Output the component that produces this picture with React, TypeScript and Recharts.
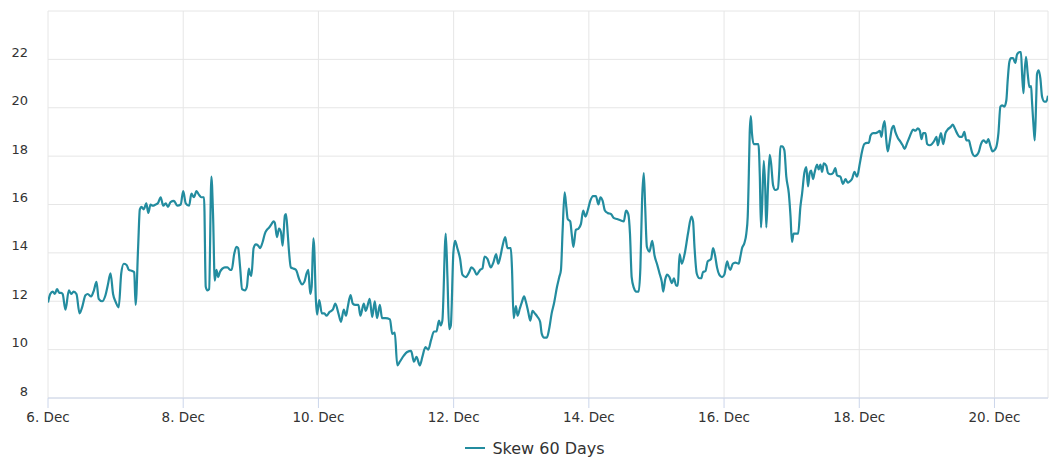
import { LineChart, Line, XAxis, YAxis, CartesianGrid, Legend } from 'recharts';

// hours since 6 Dec 00:00
const hours = [
  0, 0.8, 1.7, 2.4, 3.2, 4.0, 4.7, 5.2, 6.2, 7.4, 8.2, 9.1, 10.1, 11.2, 12.1, 13.3, 14.1, 15.3, 16.3, 17.2,
  18.0, 19.2, 20.4, 21.2, 22.2, 23.1, 24.1, 25.1, 26.0, 26.9, 27.9, 28.7, 29.9, 30.6, 31.1, 32.0, 32.6, 33.2, 34.0, 34.9,
  35.6, 36.4, 37.2, 38.2, 39.0, 40.0, 40.9, 41.8, 42.6, 43.5, 44.7, 45.9, 47.1, 48.0, 48.9, 50.1, 50.9, 51.8, 52.7, 53.6,
  54.4, 55.4, 56.0, 56.6, 57.2, 58.0, 58.6, 59.2, 59.8, 60.4, 61.0, 61.9, 62.8, 63.7, 64.7, 65.2, 66.1, 66.9, 67.5, 68.2,
  68.9, 69.9, 70.6, 71.3, 71.8, 72.2, 73.0, 73.8, 74.6, 75.3, 76.2, 77.0, 77.7, 78.5, 79.4, 80.1, 80.5, 81.3, 82.0, 82.7,
  83.3, 84.1, 84.5, 85.1, 85.6, 86.2, 87.1, 88.0, 89.2, 90.2, 91.0, 91.8, 92.4, 93.1, 93.6, 94.2, 94.5, 95.1, 95.5, 96.3,
  97.2, 98.1, 98.9, 99.9, 101.1, 102.0, 103.1, 104.0, 105.0, 105.8, 106.4, 107.4, 108.2, 109.1, 110.2, 110.9,
  112.1, 112.8, 113.3, 114.2, 115.1, 116.0, 116.8, 117.8, 118.6, 119.8, 121.4, 122.2, 123.1, 124.0, 124.9, 126.3, 127.5, 128.9, 129.9, 130.8,
  132.0, 132.9, 134.0, 135.0, 136.0, 137.0, 137.9, 138.8, 139.4, 140.0, 141.2, 141.8, 142.4, 143.0, 143.9, 144.5, 145.3, 146.3, 147.1, 148.3,
  149.5, 150.3, 151.3, 152.2, 153.4, 154.2, 155.0, 156.0, 157.2, 158.1, 159.1, 159.8, 160.5, 161.3, 162.3, 163.1, 164.3, 164.7, 165.3, 166.1,
  166.7, 167.5, 168.2, 169.0, 169.6, 170.5, 171.2, 172.0, 172.8, 173.8, 174.7, 175.3, 176.1, 177.1, 177.9, 178.8, 179.7, 180.7, 181.5, 182.1,
  182.7, 183.4, 184.0, 184.5, 185.4, 185.9, 186.5, 187.4, 188.3, 189.2, 190.0, 190.8, 191.6, 192.5, 193.5, 194.5, 195.4, 196.1, 196.9, 197.7,
  198.7, 199.9, 200.8, 202.0, 203.2, 204.4, 205.2, 206.0, 206.6, 207.2, 208.0, 208.8, 209.7, 210.3, 210.9, 211.5, 212.0, 212.6, 213.5, 214.5,
  215.3, 216.3, 217.1, 217.9, 218.4, 219.1, 219.8, 220.6, 221.5, 222.2, 223.0, 223.6, 224.2, 225.0, 226.0, 227.2, 228.4, 229.0, 229.5, 230.3,
  231.3, 231.9,
  232.5, 233.4, 234.2, 234.9, 235.4, 236.1, 236.8, 237.5, 238.3, 239.3, 240.1, 241.1, 241.7, 242.2, 243.1, 244.0, 245.2, 245.8, 246.4, 247.2,
  247.9, 248.4, 248.8, 249.1, 249.5, 249.9, 250.5, 251.5, 252.2, 252.7, 253.1, 253.5, 254.1, 254.6, 255.0, 255.6, 256.2, 256.7, 257.4, 258.2,
  259.1, 259.6, 260.0, 260.6, 261.4, 262.1, 263.0, 263.6, 264.1, 264.7, 265.7, 266.3, 267.1, 267.7, 268.5, 269.2, 269.8, 270.4, 270.9, 271.6,
  272.1, 273.0, 273.6, 274.2, 274.8, 275.4, 276.3, 276.9, 277.8, 278.7, 279.5, 280.1, 281.3, 282.2, 283.1, 283.9, 284.6, 285.4, 286.3, 287.2,
  288.2, 289.0, 289.8, 290.8, 291.4, 292.0, 292.9, 293.8, 294.7, 295.3, 295.9, 296.4, 297.0, 297.6, 298.1, 298.8, 299.6, 300.2, 300.8, 301.7,
  302.6, 303.4, 304.1, 305.0, 305.7, 306.4, 307.1, 307.9, 308.8, 309.5, 310.1, 310.7, 311.5, 312.1, 313.0, 313.8, 314.7, 315.4, 315.9, 316.6,
  317.0, 317.8, 318.6, 319.4, 320.4, 321.2, 321.9, 322.7, 323.6, 324.5, 325.3, 326.0, 326.9, 327.5, 328.2, 328.9, 329.8, 330.5, 331.2, 332.2,
  333.1, 333.8, 334.6, 335.3, 336.0, 336.7, 337.4, 338.1, 338.7, 339.5, 340.2, 340.7, 341.3, 341.9, 342.6, 343.4, 344.0, 344.9, 345.4, 345.8,
  346.3, 346.6, 347.2, 347.8, 348.4, 349.0, 349.3, 349.9, 350.3, 350.8, 351.1, 351.7, 352.3, 352.9, 353.7, 354.4, 355.0,
];

const skew = [
  11.95, 12.3, 12.4, 12.3, 12.5, 12.35, 12.35, 12.3, 11.65, 12.45, 12.3, 12.4, 12.3, 11.5, 11.75, 12.25, 12.3, 12.2, 12.45, 12.8,
  12.1, 12.0, 12.25, 12.65, 13.15, 12.3, 11.95, 11.75, 13.15, 13.55, 13.5, 13.3, 13.25, 13.2, 11.85, 14.25, 15.8, 15.9, 15.8, 16.05,
  15.65, 16.0, 15.95, 16.0, 16.05, 16.3, 15.95, 16.05, 15.9, 16.1, 16.15, 15.95, 16.0, 16.55, 16.05, 15.95, 16.45, 16.3, 16.55, 16.4,
  16.3, 16.3, 12.6, 12.45, 12.5, 17.15, 15.55, 12.85, 13.3, 13.0, 13.2, 13.35, 13.4, 13.4, 13.3, 13.3, 13.95, 14.25, 14.2, 13.4,
  12.5, 12.45, 12.6, 13.35, 13.1, 13.05, 14.2, 14.35, 14.3, 14.2, 14.45, 14.8, 14.95, 15.05, 15.2, 15.3, 15.25, 14.65, 15.0, 14.85,
  14.3, 15.55, 15.6, 14.8, 14.0, 13.4, 13.35, 13.3, 12.9, 12.7, 12.8, 13.15, 13.3, 12.3, 12.6, 14.6, 14.25, 12.05, 11.45, 12.05,
  11.5, 11.5, 11.4, 11.55, 11.65, 11.9, 11.5, 11.15, 11.65, 11.4, 11.75, 12.25, 11.9, 11.85, 11.85, 11.4,
  11.9, 11.6, 11.75, 12.1, 11.35, 12.0, 11.3, 11.85, 11.3, 11.3, 11.25, 10.65, 10.7, 9.35, 9.5, 9.75, 9.9, 9.95, 9.5, 9.7,
  9.35, 9.7, 10.1, 10.0, 10.4, 10.75, 10.75, 11.2, 11.0, 11.2, 14.8, 13.0, 10.85, 11.0, 14.0, 14.5, 14.2, 13.75, 13.1, 13.0,
  13.2, 13.4, 13.3, 13.1, 13.3, 13.35, 13.85, 13.75, 13.4, 13.6, 13.95, 13.55, 13.8, 14.25, 14.65, 14.2, 14.2, 13.4, 11.3, 11.8,
  11.4, 11.7, 11.95, 12.2, 12.0, 11.55, 11.2, 11.6, 11.5, 11.35, 11.15, 10.65, 10.5, 10.5, 10.85, 11.5, 11.95, 12.6, 13.0, 13.3,
  14.95, 16.5, 15.9, 15.4, 15.3, 14.8, 14.25, 14.95, 15.0, 15.2, 15.75, 15.5, 15.75, 16.15, 16.35, 16.35, 16.0, 16.3, 16.15, 15.75,
  15.65, 15.6, 15.45, 15.4, 15.35, 15.3, 15.75, 15.6, 14.8, 13.0, 12.55, 12.4, 12.4, 13.4, 16.2, 17.3, 15.9, 14.25, 14.05, 14.5,
  13.9, 13.5, 13.15, 12.8, 12.4, 12.9, 13.1, 13.0, 12.75, 12.95, 12.65, 12.65, 13.95, 13.55, 13.95, 14.8, 15.5, 15.3, 14.25, 13.15,
  12.95, 12.95,
  13.2, 13.25, 13.65, 13.7, 13.75, 14.2, 13.9, 13.4, 13.1, 13.0, 13.1, 13.65, 13.4, 13.3, 13.55, 13.6, 13.55, 13.85, 14.2, 14.4,
  14.8, 15.5, 17.3, 18.95, 19.65, 18.95, 18.5, 18.5, 18.5, 17.15, 15.05, 15.9, 17.8, 16.75, 15.05, 16.75, 18.05, 17.7, 16.8, 16.6,
  16.65, 17.4, 18.4, 18.4, 18.25, 17.15, 16.45, 15.5, 14.45, 14.8, 14.8, 14.8, 15.9, 16.45, 17.3, 17.55, 16.75, 17.3, 17.4, 17.05,
  17.3, 17.65, 17.45, 17.65, 17.35, 17.7, 17.6, 17.3, 17.25, 17.3, 17.5, 17.2, 17.15, 16.85, 17.05, 16.9, 16.95, 17.05, 17.35, 17.15,
  17.7, 18.2, 18.5, 18.55, 18.55, 18.85, 18.95, 18.95, 19.0, 19.05, 18.8, 19.2, 19.45, 18.65, 18.2, 18.6, 19.15, 19.25, 19.0, 18.75,
  18.6, 18.45, 18.3, 18.55, 18.75, 18.95, 19.1, 19.05, 19.15, 19.05, 18.7, 18.95, 18.95, 18.5, 18.45, 18.5, 18.65, 18.8, 18.45, 18.8,
  18.95, 18.5, 18.95, 19.1, 19.2, 19.3, 19.15, 18.95, 18.8, 18.8, 19.0, 18.65, 18.65, 18.4, 18.1, 18.0, 18.05, 18.2, 18.5, 18.65,
  18.55, 18.7, 18.4, 18.2, 18.25, 18.4, 18.95, 20.05, 20.1, 20.05, 20.3, 21.15, 21.9, 22.05, 22.05, 21.85, 22.2, 22.3, 22.3, 21.4,
  20.6, 21.3, 22.1, 21.4, 20.85, 20.9, 20.3, 19.2, 18.65, 20.3, 21.4, 21.55, 21.2, 20.45, 20.25, 20.25, 20.5,
];

const xTicks = [0, 48, 96, 144, 192, 240, 288, 336];
const yTicks = [8, 10, 12, 14, 16, 18, 20, 22, 24];
const seriesName = 'Skew 60 Days';

const LINE_COLOR = '#238c9f';

const chartData = hours.map((t, i) => ({ t, skew: skew[i] }));

const formatDay = (t: number) => `${6 + Math.round(t / 24)}. Dec`;

const YTick = ({ x, y, payload }: any) => {
  if (payload.value === 24) return <g />;
  return (
    <text x={x} y={y - 7} dy="0.355em" textAnchor="end" fill="#333333" fontSize={13}>
      {payload.value}
    </text>
  );
};

const XTick = ({ x, y, payload }: any) => (
  <text x={x} y={y} dy="0.71em" textAnchor="middle" fill="#333333" fontSize={13.5}>
    {formatDay(payload.value)}
  </text>
);

const LegendContent = () => (
  <div style={{ height: 32, display: 'flex', alignItems: 'center', justifyContent: 'center', paddingLeft: 22 }}>
    <div style={{ width: 20, height: 2.5, background: LINE_COLOR, marginRight: 7 }} />
    <span style={{ fontSize: 16, color: '#333333' }}>{seriesName}</span>
  </div>
);

export default function App() {
  return (
    <div style={{ position: 'absolute', left: 0, top: 0, width: 1058, height: 464, background: '#fff', fontFamily: '"DejaVu Sans", sans-serif' }}>
      <LineChart width={1058} height={464} data={chartData} margin={{ top: 11, right: 10, left: 0, bottom: 0 }}>
        <CartesianGrid stroke="#e6e6e6" strokeWidth={1} />
        <XAxis
          dataKey="t"
          type="number"
          domain={[0, 355]}
          ticks={xTicks}
          height={34}
          tickSize={10}
          tickMargin={4}
          axisLine={{ stroke: '#ccd6eb' }}
          tickLine={{ stroke: '#ccd6eb' }}
          tick={<XTick />}
          allowDataOverflow
        />
        <YAxis
          type="number"
          domain={[8, 24]}
          ticks={yTicks}
          width={48}
          axisLine={false}
          tickLine={false}
          tickSize={0}
          tickMargin={20}
          tick={<YTick />}
        />
        <Legend verticalAlign="bottom" height={32} content={<LegendContent />} />
        <Line
          type="monotone"
          dataKey="skew"
          name={seriesName}
          stroke={LINE_COLOR}
          strokeWidth={2.2}
          dot={false}
          isAnimationActive={false}
        />
      </LineChart>
    </div>
  );
}
